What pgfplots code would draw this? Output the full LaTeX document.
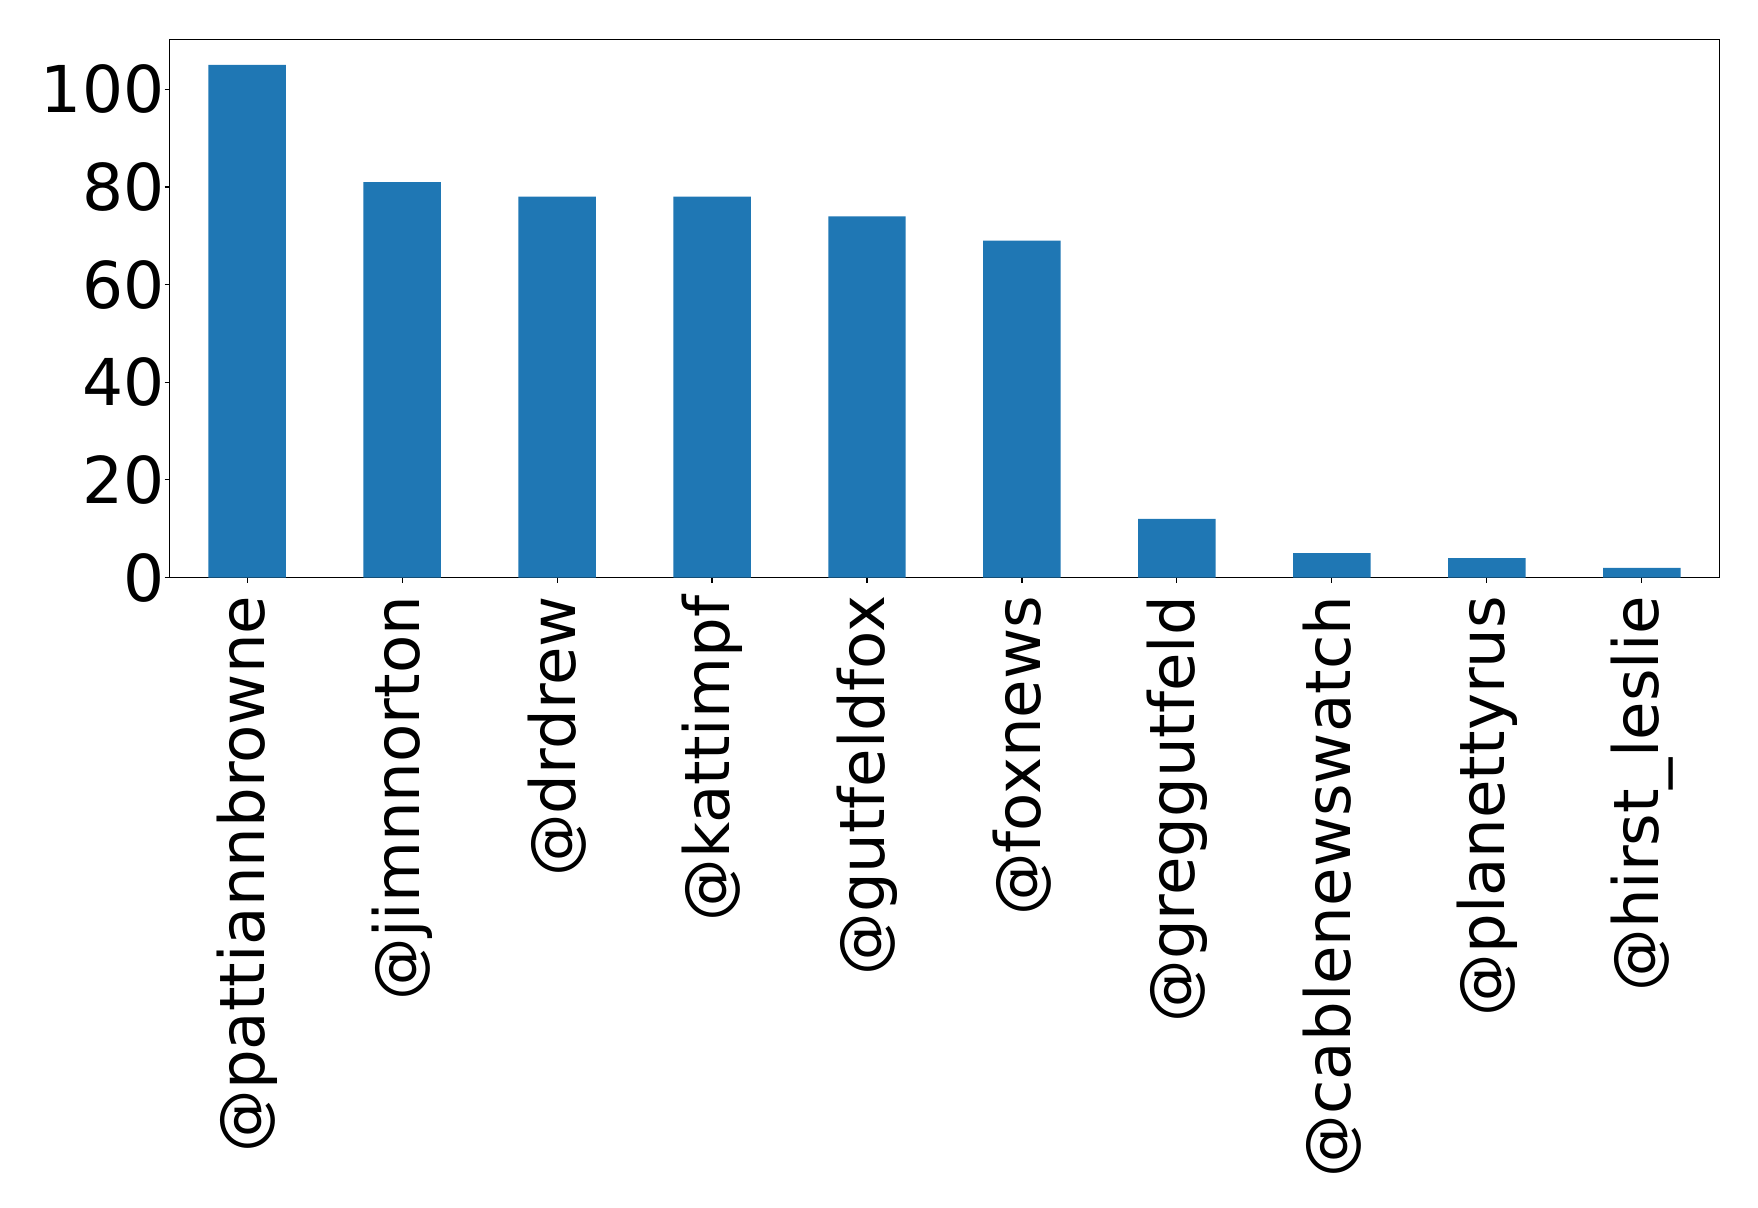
\documentclass[border=0pt]{standalone}
\usepackage{pgfplots}
\pgfplotsset{compat=1.18}
\usepackage{fontspec}
\setmainfont{DejaVu Sans}
\definecolor{barblue}{HTML}{1F77B4}
\begin{document}
\begin{tikzpicture}
\path[use as bounding box] (-84.85pt,-315.15pt) rectangle (794.35pt,288.85pt);
\begin{axis}[
  at={(0pt,0pt)}, anchor=south west,
  scale only axis, width=775pt, height=269.2pt,
  xmin=-0.5, xmax=9.5, ymin=0, ymax=110.25,
  xtick={0,...,9},
  xticklabels={@pattiannbrowne,@jimnnorton,@drdrew,@kattimpf,@gutfeldfox,@foxnews,@greggutfeld,@cablenewswatch,@planettyrus,@hirst\_leslie},
  ytick={0,20,40,60,80,100},
  tick align=outside, major tick length=2.5pt,
  tick style={black, line width=0.55pt},
  axis line style={line width=0.55pt},
  xtick pos=left, ytick pos=left,
  x tick label style={rotate=90, anchor=east, font=\fontsize{31.3}{37}\selectfont, inner ysep=0pt, inner xsep=6.5pt},
  y tick label style={font=\fontsize{32.3}{38}\selectfont, inner sep=0pt},
  /pgf/number format/assume math mode=true,
  ybar, bar width=38.75pt, bar shift=0pt,
]
\addplot[fill=barblue, draw=none] coordinates {(0,105) (1,81) (2,78) (3,78) (4,74) (5,69) (6,12) (7,5) (8,4) (9,2)};
\end{axis}
\end{tikzpicture}
\end{document}
